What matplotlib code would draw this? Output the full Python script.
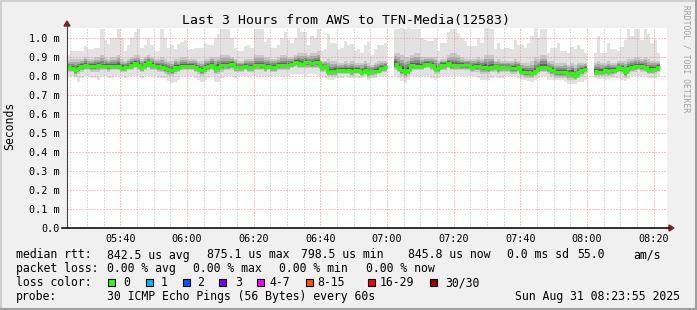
import matplotlib
matplotlib.use('Agg')
import matplotlib.pyplot as plt
import numpy as np
from matplotlib.patches import Rectangle, Polygon
from matplotlib.lines import Line2D

nan = np.nan
W, H = 697, 310

title = 'Last 3 Hours from AWS to TFN-Media(12583)'
start = '05:24'          # one value per minute from here
tick_labels = ['05:40', '06:00', '06:20', '06:40', '07:00', '07:20', '07:40', '08:00', '08:20']
y_ticks = [0.0, 0.1, 0.2, 0.3, 0.4, 0.5, 0.6, 0.7, 0.8, 0.9, 1.0]

# median rtt per minute (ms)
med = [0.847, 0.842, 0.830, 0.842, 0.854, 0.858, 0.854, 0.853, 0.853, 0.856, 0.851, 0.853,
       0.853, 0.854, 0.854, 0.853, 0.844, 0.846, 0.847, 0.860, 0.867, 0.860, 0.849, 0.863,
       0.872, 0.860, 0.854, 0.851, 0.847, 0.840, 0.839, 0.830, 0.846, 0.844, 0.851, 0.853,
       0.851, 0.851, 0.847, 0.839, 0.830, 0.846, 0.851, 0.860, 0.837, 0.849, 0.856, 0.858,
       0.856, 0.865, 0.847, 0.846, 0.846, 0.851, 0.849, 0.847, 0.858, 0.858, 0.856, 0.849,
       0.853, 0.846, 0.849, 0.856, 0.858, 0.858, 0.860, 0.865, 0.874, 0.870, 0.863, 0.872,
       0.872, 0.867, 0.872, 0.872, 0.847, 0.851, 0.821, 0.825, 0.826, 0.830, 0.830, 0.828,
       0.830, 0.826, 0.830, 0.830, 0.823, 0.832, 0.816, 0.825, 0.828, 0.828, 0.844, 0.847,
       nan, nan, 0.863, 0.846, 0.832, 0.819, 0.833, 0.856, 0.853, 0.851, 0.853, 0.865,
       0.865, 0.858, 0.839, 0.840, 0.858, 0.858, 0.867, 0.856, 0.858, 0.858, 0.856, 0.856,
       0.856, 0.849, 0.851, 0.853, 0.847, 0.847, 0.842, 0.849, 0.853, 0.840, 0.847, 0.847,
       0.847, 0.844, 0.840, 0.846, 0.823, 0.819, 0.819, 0.814, 0.825, 0.840, 0.849, 0.849,
       0.840, 0.830, 0.819, 0.819, 0.819, 0.821, 0.812, 0.816, 0.800, 0.821, 0.833, 0.839,
       nan, nan, 0.826, 0.823, 0.823, 0.830, 0.826, 0.830, 0.833, 0.847, 0.842, 0.819,
       0.840, 0.849, 0.851, 0.853, 0.851, 0.846, 0.833, 0.837, 0.839, 0.849]

# smoke: highest and lowest ping per minute (ms)
top = [0.91, 0.93, 0.93, 0.93, 0.93, 0.96, 0.94, 0.94, 0.95, 0.95, 1.05, 0.99,
       0.97, 1.00, 1.00, 1.05, 1.00, 0.93, 0.965, 1.00, 1.03, 1.05, 0.95, 0.965,
       1.00, 0.965, 0.93, 0.93, 1.05, 1.00, 0.95, 0.965, 0.94, 0.97, 0.98, 0.99,
       0.94, 0.94, 0.95, 0.95, 0.95, 0.975, 0.965, 0.965, 1.00, 1.02, 1.05, 1.05,
       1.05, 1.00, 0.95, 0.93, 0.93, 0.96, 0.965, 0.95, 1.05, 1.05, 1.05, 0.98,
       1.00, 0.95, 0.95, 0.965, 1.00, 1.03, 0.99, 0.975, 1.00, 1.05, 1.03, 1.03,
       0.965, 1.01, 1.00, 1.05, 0.93, 0.94, 1.02, 0.975, 0.975, 0.94, 0.95, 0.985,
       0.965, 0.97, 0.93, 0.94, 0.92, 0.965, 0.98, 0.91, 0.94, 0.965, 0.965, 0.975,
       nan, nan, 1.05, 1.05, 1.05, 1.05, 1.05, 1.05, 1.05, 1.05, 1.00, 0.99,
       0.985, 0.985, 1.00, 0.93, 0.975, 0.975, 1.03, 1.05, 1.05, 1.025, 1.00, 0.985,
       0.96, 0.96, 0.96, 1.00, 0.975, 1.05, 1.05, 1.05, 0.94, 0.975, 0.94, 0.95,
       0.95, 0.94, 0.99, 0.965, 0.965, 0.95, 0.975, 1.01, 1.05, 1.00, 1.05, 1.05,
       0.92, 0.945, 0.95, 0.975, 0.93, 0.93, 0.92, 0.955, 0.94, 0.965, 0.94, 0.92,
       nan, nan, 0.92, 1.01, 0.92, 0.92, 0.975, 0.94, 0.94, 0.93, 0.955, 0.99,
       1.05, 1.01, 1.05, 1.05, 0.99, 1.05, 1.02, 0.975, 0.99, 0.92]
bot = [0.80, 0.80, 0.79, 0.77, 0.79, 0.80, 0.80, 0.79, 0.79, 0.78, 0.80, 0.80,
       0.79, 0.79, 0.80, 0.80, 0.80, 0.79, 0.80, 0.80, 0.80, 0.80, 0.79, 0.80,
       0.80, 0.80, 0.80, 0.79, 0.79, 0.79, 0.775, 0.765, 0.77, 0.78, 0.80, 0.80,
       0.80, 0.80, 0.79, 0.78, 0.77, 0.78, 0.79, 0.80, 0.77, 0.77, 0.79, 0.80,
       0.80, 0.80, 0.79, 0.80, 0.80, 0.80, 0.80, 0.80, 0.80, 0.80, 0.80, 0.80,
       0.80, 0.80, 0.80, 0.80, 0.80, 0.80, 0.80, 0.81, 0.81, 0.81, 0.81, 0.80,
       0.81, 0.81, 0.81, 0.80, 0.80, 0.79, 0.78, 0.78, 0.79, 0.79, 0.79, 0.80,
       0.79, 0.79, 0.79, 0.79, 0.79, 0.80, 0.78, 0.79, 0.79, 0.80, 0.80, 0.80,
       nan, nan, 0.80, 0.79, 0.775, 0.765, 0.78, 0.80, 0.80, 0.80, 0.80, 0.80,
       0.80, 0.79, 0.78, 0.79, 0.80, 0.80, 0.80, 0.80, 0.80, 0.80, 0.80, 0.80,
       0.80, 0.80, 0.80, 0.79, 0.78, 0.78, 0.78, 0.79, 0.80, 0.79, 0.79, 0.80,
       0.80, 0.80, 0.80, 0.79, 0.78, 0.78, 0.775, 0.77, 0.78, 0.79, 0.80, 0.80,
       0.78, 0.78, 0.78, 0.78, 0.78, 0.77, 0.76, 0.76, 0.76, 0.77, 0.77, 0.78,
       nan, nan, 0.79, 0.785, 0.785, 0.78, 0.785, 0.79, 0.79, 0.79, 0.78, 0.775,
       0.785, 0.80, 0.80, 0.80, 0.80, 0.80, 0.79, 0.79, 0.79, 0.80]
# smoke: edges of the denser middle of the distribution (ms)
hi = [0.88, 0.89, 0.89, 0.89, 0.89, 0.90, 0.89, 0.89, 0.90, 0.90, 0.91, 0.90,
      0.89, 0.90, 0.90, 0.91, 0.89, 0.88, 0.89, 0.90, 0.91, 0.91, 0.89, 0.90,
      0.91, 0.90, 0.89, 0.89, 0.90, 0.89, 0.88, 0.88, 0.89, 0.89, 0.90, 0.90,
      0.89, 0.89, 0.89, 0.88, 0.88, 0.89, 0.89, 0.90, 0.90, 0.90, 0.91, 0.91,
      0.91, 0.90, 0.89, 0.88, 0.88, 0.89, 0.89, 0.89, 0.91, 0.91, 0.91, 0.90,
      0.90, 0.89, 0.89, 0.90, 0.91, 0.91, 0.90, 0.90, 0.91, 0.92, 0.92, 0.92,
      0.91, 0.92, 0.92, 0.93, 0.88, 0.88, 0.89, 0.88, 0.88, 0.87, 0.87, 0.88,
      0.87, 0.88, 0.87, 0.87, 0.87, 0.88, 0.87, 0.86, 0.87, 0.88, 0.88, 0.88,
      nan, nan, 0.92, 0.92, 0.91, 0.90, 0.90, 0.91, 0.92, 0.92, 0.90, 0.90,
      0.90, 0.90, 0.90, 0.88, 0.89, 0.89, 0.91, 0.92, 0.92, 0.91, 0.90, 0.89,
      0.89, 0.89, 0.89, 0.90, 0.89, 0.91, 0.91, 0.91, 0.88, 0.89, 0.88, 0.88,
      0.88, 0.88, 0.89, 0.88, 0.87, 0.87, 0.87, 0.88, 0.90, 0.89, 0.91, 0.91,
      0.88, 0.88, 0.87, 0.87, 0.87, 0.87, 0.86, 0.87, 0.86, 0.87, 0.87, 0.87,
      nan, nan, 0.87, 0.88, 0.87, 0.87, 0.88, 0.87, 0.87, 0.88, 0.88, 0.88,
      0.89, 0.89, 0.90, 0.90, 0.89, 0.90, 0.89, 0.88, 0.88, 0.88]
lo = [0.82, 0.82, 0.80, 0.81, 0.82, 0.83, 0.83, 0.82, 0.82, 0.82, 0.83, 0.83,
      0.82, 0.83, 0.83, 0.83, 0.82, 0.82, 0.83, 0.83, 0.84, 0.83, 0.82, 0.83,
      0.84, 0.83, 0.83, 0.82, 0.82, 0.81, 0.80, 0.80, 0.81, 0.82, 0.83, 0.83,
      0.83, 0.83, 0.82, 0.81, 0.80, 0.81, 0.82, 0.83, 0.81, 0.81, 0.82, 0.83,
      0.83, 0.83, 0.82, 0.82, 0.82, 0.83, 0.82, 0.82, 0.83, 0.83, 0.83, 0.82,
      0.83, 0.82, 0.82, 0.83, 0.83, 0.83, 0.83, 0.84, 0.85, 0.84, 0.84, 0.84,
      0.84, 0.84, 0.84, 0.84, 0.82, 0.82, 0.80, 0.80, 0.80, 0.81, 0.81, 0.81,
      0.81, 0.80, 0.81, 0.81, 0.80, 0.81, 0.79, 0.80, 0.80, 0.81, 0.82, 0.82,
      nan, nan, 0.83, 0.82, 0.80, 0.79, 0.80, 0.83, 0.83, 0.83, 0.83, 0.84,
      0.84, 0.83, 0.81, 0.81, 0.83, 0.83, 0.84, 0.83, 0.83, 0.83, 0.83, 0.83,
      0.83, 0.82, 0.82, 0.82, 0.81, 0.81, 0.81, 0.82, 0.82, 0.81, 0.82, 0.82,
      0.82, 0.81, 0.81, 0.82, 0.80, 0.79, 0.79, 0.79, 0.80, 0.81, 0.82, 0.82,
      0.81, 0.80, 0.79, 0.79, 0.79, 0.79, 0.78, 0.78, 0.78, 0.79, 0.80, 0.81,
      nan, nan, 0.80, 0.80, 0.80, 0.80, 0.80, 0.80, 0.81, 0.82, 0.81, 0.79,
      0.81, 0.82, 0.82, 0.83, 0.82, 0.82, 0.81, 0.81, 0.81, 0.82]

rtt_stats = ['842.5 us avg', '875.1 us max', '798.5 us min', '845.8 us now', '0.0 ms sd', '55.0', 'am/s']
loss_stats = ['0.00 % avg', '0.00 % max', '0.00 % min', '0.00 % now']
loss_labels = ['0', '1', '2', '3', '4-7', '8-15', '16-29', '30/30']
loss_colors = ['#26ff00', '#00b8ff', '#0059ff', '#7e00ff', '#ff00ff', '#ff5500', '#ff0000', '#a10000']
probe_text = '30 ICMP Echo Pings (56 Bytes) every 60s'
stamp = 'Sun Aug 31 08:23:55 2025'

plt.rcParams['font.family'] = 'DejaVu Sans Mono'

def fx(x):
    return x / W

def fy(y):
    return 1 - y / H

def minutes(label):
    h, m = label.split(':')
    sh, sm = start.split(':')
    return int(h) * 60 + int(m) - (int(sh) * 60 + int(sm))

med = np.array(med); top = np.array(top); bot = np.array(bot)
hi = np.array(hi); lo = np.array(lo)
x = np.arange(len(med))

fig = plt.figure(figsize=(W / 100, H / 100), dpi=100, facecolor='#f0f0f0')
ax = fig.add_axes([fx(67), fy(228), 600 / W, 200 / H])
ax.set_facecolor('white')
ax.set_xlim(0, 180)
ax.set_ylim(0, 200 / 190)

# smoke
ax.bar(x, top - bot, bottom=bot, width=1, align='edge', color='#e2e2e2', lw=0, antialiased=False, zorder=1)
shades = [(1.0, '#c8c8c8'), (0.7, '#a8a8a8'), (0.45, '#888888'), (0.25, '#606060'), (0.1, '#383838')]
for f, c in shades:
    up = med + f * (hi - med)
    dn = med - f * (med - lo)
    ax.bar(x, up - dn, bottom=dn, width=1, align='edge', color=c, lw=0, antialiased=False, zorder=1)

xs = np.append(x, x[-1] + 1)
ys = np.append(med, med[-1])
ax.step(xs, ys, where='post', color=loss_colors[0], lw=2.2, zorder=4, solid_capstyle='butt')

# grid
major = [minutes(t) for t in tick_labels]
minor = [m for m in range(1, 180, 5) if m not in major]
ax.set_xticks(major)
ax.set_xticklabels(tick_labels)
ax.set_xticks(minor, minor=True)
ax.set_yticks(y_ticks)
ax.set_yticklabels(['0.0'] + ['%.1f m' % v for v in y_ticks[1:]])
ax.grid(which='minor', axis='x', color='#b8b8b8', ls=(0, (1, 2)), lw=0.72)
ax.grid(which='major', axis='both', color='#e88c8c', ls=(0, (1, 2)), lw=0.72)
ax.set_axisbelow(False)
ax.tick_params(which='both', length=0, labelsize=7.3, colors='black')
ax.tick_params(axis='y', pad=5)
ax.tick_params(axis='x', pad=4)
for s in ax.spines.values():
    s.set_visible(False)

# axes and arrows
fig.add_artist(Line2D([fx(67), fx(67)], [fy(228), fy(24)], color='#404040', lw=0.8))
fig.add_artist(Line2D([fx(62), fx(669)], [fy(228), fy(228)], color='#101010', lw=1.2))
fig.add_artist(Polygon([(fx(64), fy(26)), (fx(70), fy(26)), (fx(67), fy(21))], closed=True,
                       color='#7f1f1f', transform=fig.transFigure))
fig.add_artist(Polygon([(fx(669), fy(225)), (fx(669), fy(231)), (fx(674), fy(228))], closed=True,
                       color='#7f1f1f', transform=fig.transFigure))

# frame
fig.add_artist(Line2D([0, 1], [fy(1), fy(1)], color='#cfcfcf', lw=1.5))
fig.add_artist(Line2D([fx(1), fx(1)], [0, 1], color='#cfcfcf', lw=1.5))
fig.add_artist(Line2D([0, 1], [fy(309), fy(309)], color='#9e9e9e', lw=1.5))
fig.add_artist(Line2D([fx(696), fx(696)], [0, 1], color='#9e9e9e', lw=1.5))

# texts
fig.text(fx(346), fy(24), title, ha='center', va='baseline', fontsize=9.5)
fig.text(fx(10), fy(126), 'Seconds', rotation=90, ha='center', va='center', fontsize=8.3)
fig.text(fx(686), fy(5), 'RRDTOOL / TOBI OETIKER', rotation=270, ha='center', va='top',
         fontsize=5.8, color='#a0a0a0')

lf = 8.3
rows = [258.5, 272, 286, 300]
fig.text(fx(16), fy(rows[0]), 'median rtt:', fontsize=lf, va='baseline')
for s, px in zip(rtt_stats, [107, 207, 301, 408, 507, 577, 633]):
    fig.text(fx(px), fy(rows[0]), s, fontsize=lf, va='baseline')
fig.text(fx(16), fy(rows[1]), 'packet loss:', fontsize=lf, va='baseline')
for s, px in zip(loss_stats, [107, 193, 279, 366]):
    fig.text(fx(px), fy(rows[1]), s, fontsize=lf, va='baseline')
fig.text(fx(16), fy(rows[2]), 'loss color:', fontsize=lf, va='baseline')
sq_x = [108, 146, 183, 219, 257, 306, 368, 430]
lab_x = [123, 161, 197, 235, 269, 317, 380, 445]
for lab, c, sx, lx in zip(loss_labels, loss_colors, sq_x, lab_x):
    fig.add_artist(Rectangle((fx(sx), fy(285.5)), 7 / W, 7 / H, facecolor=c, edgecolor='black',
                             lw=0.8, transform=fig.transFigure))
    fig.text(fx(lx), fy(rows[2]), lab, fontsize=lf, va='baseline')
fig.text(fx(16), fy(rows[3]), 'probe:', fontsize=lf, va='baseline')
fig.text(fx(107), fy(rows[3]), probe_text, fontsize=lf, va='baseline')
fig.text(fx(680), fy(rows[3]), stamp, fontsize=lf, va='baseline', ha='right')

fig.savefig('out.png', dpi=100, facecolor=fig.get_facecolor())
